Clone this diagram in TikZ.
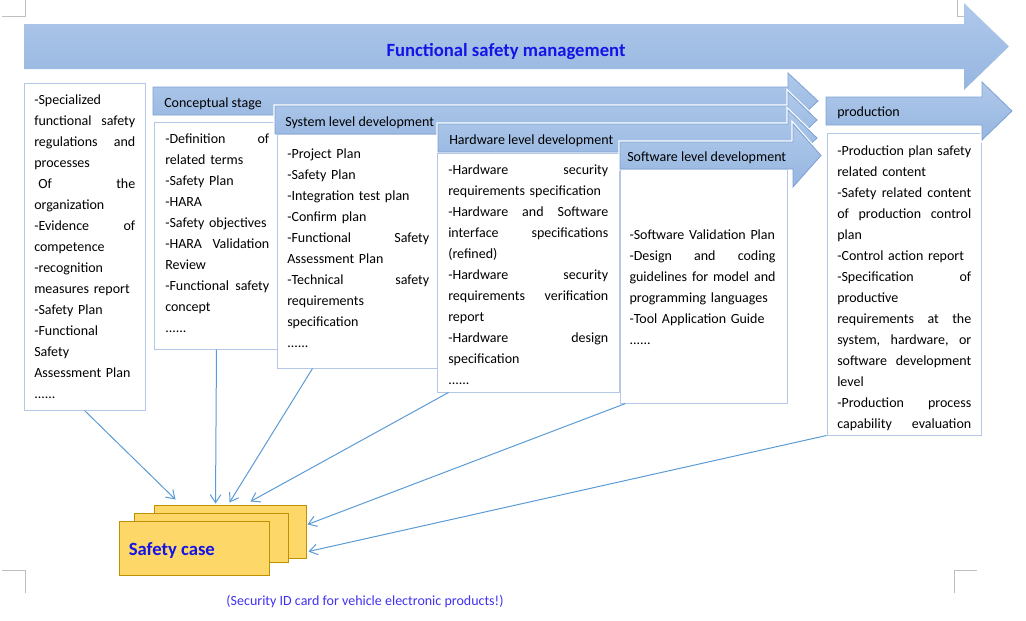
\documentclass[tikz,border=0pt]{standalone}
\usepackage{fontspec}
\setmainfont{Carlito}
\usetikzlibrary{arrows.meta,calc,fit}

\definecolor{bartop}{HTML}{AFC9EA}
\definecolor{barbot}{HTML}{96B5E0}
\definecolor{baredge}{HTML}{7EA2D5}
\definecolor{boxline}{HTML}{B4C7E7}
\definecolor{linkblue}{HTML}{5B9BD5}
\definecolor{cardfill}{HTML}{FDD868}
\definecolor{cardline}{HTML}{BF9000}
\definecolor{titleblue}{HTML}{1414E6}
\definecolor{noteblue}{HTML}{4030F0}
\definecolor{cropgray}{HTML}{BFBFBF}

\tikzset{
  bigbar/.style={top color=bartop, bottom color=barbot},
  stagebar/.style={top color=bartop, bottom color=barbot, draw=baredge, line width=0.6pt,
    preaction={draw=white, line width=2.4pt}},
  stagelabel/.style={anchor=west, inner sep=0pt, font=\fontsize{10.5}{12}\selectfont},
  docbox/.style={draw=boxline, fill=white, line width=0.75pt, inner sep=0pt},
  doctext/.style={anchor=north west, inner sep=0pt, align=left, font=\fontsize{10.5}{15.75}\selectfont},
  card/.style={draw=cardline, fill=cardfill, line width=0.75pt, inner sep=0pt},
  link/.style={draw=linkblue, line width=0.75pt, -{Straight Barb[length=6pt,width=8pt]}},
  cropmark/.style={draw=cropgray, line width=0.75pt}
}

\begin{document}
\begin{tikzpicture}[x=0.75pt, y=-0.75pt]
\useasboundingbox (0,0) rectangle (1026,621);

% page corners
\draw[cropmark] (2,16) -- (25,16) -- (25,0);
\draw[cropmark] (957,0) -- (957,16) -- (966,16);
\draw[cropmark] (2,570) -- (25,570) -- (25,593);
\draw[cropmark] (954,593) -- (954,570) -- (977,570);

% management bar
\path[bigbar] (24,24) -- (964,24) -- (964,3) -- (1009,46.5) -- (964,90) -- (964,69) -- (24,69) -- cycle;
\node[font=\fontsize{14}{16}\selectfont\bfseries, text=titleblue] (fsm) at (506,52) {Functional safety management};

% organization
\node[docbox, fit={(24,83) (145,410)}] (org) {};
\node[doctext, text width=75.75pt] (orgtext) at (34,95) {-Specialized\\
functional\hfill safety\\
regulations\hfill and\\
processes\\
\hspace*{3pt}Of\hfill the\\
organization\\
-Evidence\hfill of\\
competence\\
-recognition\\
measures report\\
-Safety Plan\\
-Functional\\
Safety\\
Assessment Plan\\
......};

% conceptual stage
\path[stagebar] (153,87) -- (788,87) -- (788,73) -- (818,101) -- (788,129) -- (788,115) -- (153,115) -- cycle;
\node[stagelabel] (conceptlbl) at (164,104) {Conceptual stage};
\node[docbox, fit={(154,122) (279,349)}] (concept) {};
\node[doctext, text width=78pt] (concepttext) at (165,134) {-Definition\hfill of\\
related terms\\
-Safety Plan\\
-HARA\\
-Safety objectives\\
-HARA\hfill Validation\\
Review\\
-Functional\hfill safety\\
concept\\
......};

% system level
\path[stagebar] (275,106) -- (788,106) -- (788,92) -- (817,120) -- (788,148) -- (788,134) -- (275,134) -- cycle;
\node[stagelabel] (syslbl) at (285,123) {System level development};
\node[docbox, fit={(277,134) (437,368)}] (sys) {};
\node[doctext, text width=106.5pt] (systext) at (287,149) {-Project Plan\\
-Safety Plan\\
-Integration test plan\\
-Confirm plan\\
-Functional\hfill Safety\\
Assessment Plan\\
-Technical\hfill safety\\
requirements\\
specification\\
......};

% hardware level
\path[stagebar] (438,124) -- (788,124) -- (788,110) -- (817,138) -- (788,166) -- (788,152) -- (438,152) -- cycle;
\node[stagelabel] (hwlbl) at (449,140.5) {Hardware level development};
\node[docbox, fit={(437,153) (619,392)}] (hw) {};
\node[doctext, text width=120pt] (hwtext) at (448,165) {-Hardware\hfill security\\
requirements specification\\
-Hardware\hfill and\hfill Software\\
interface\hfill specifications\\
(refined)\\
-Hardware\hfill security\\
requirements\hfill verification\\
report\\
-Hardware\hfill design\\
specification\\
......};

% software level
\path[stagebar] (620,142) -- (793,142) -- (793,124) -- (821,155.5) -- (793,187) -- (793,169) -- (620,169) -- cycle;
\node[stagelabel] (swlbl) at (627,158) {Software level development};
\node[docbox, fit={(620,169) (787,403)}] (sw) {};
\node[doctext, anchor=center, text width=109.5pt] (swtext) at ($(sw.center)+(-1,1.5)$) {-Software Validation Plan\\
-Design\hfill and\hfill coding\\
guidelines\hfill for\hfill model\hfill and\\
programming languages\\
-Tool Application Guide\\
......};

% production
\node[docbox, fit={(827,133) (981,435)}] (prod) {};
\path[stagebar] (826,97) -- (982,97) -- (982,82) -- (1012,111) -- (982,140) -- (982,125) -- (826,125) -- cycle;
\node[stagelabel] (prodlbl) at (837,113) {production};
\node[doctext, text width=100.5pt] (prodtext) at (837,145.5) {-Production\hfill plan\hfill safety\\
related content\\
-Safety\hfill related\hfill content\\
of\hfill production\hfill control\\
plan\\
-Control action report\\
-Specification\hfill of\\
productive\\
requirements\hfill at\hfill the\\
system,\hfill hardware,\hfill or\\
software\hfill development\\
level\\
-Production\hfill process\\
capability\hfill evaluation};

% safety case
\node[card, fit={(154,505) (306,558)}] (card3) {};
\node[card, fit={(134,513) (288,562)}] (card2) {};
\node[card, fit={(119,521) (269,575)}] (card1) {};
\node[anchor=west, inner sep=0pt, font=\fontsize{14}{16}\selectfont\bfseries, text=titleblue] (casetext) at ($(card1.west)+(10,2)$) {Safety case};
\node[font=\fontsize{10.5}{12}\selectfont, text=noteblue] (note) at (365,602) {(Security ID card for vehicle electronic products!)};

\draw[link] (org.south) -- ($(card3.north west)+(22,-5)$);
\draw[link] (concept.south) -- ($(card3.north west)+(62,-1)$);
\draw[link] ($(sys.south west)+(36,0)$) -- ($(card3.north west)+(76,-2)$);
\draw[link] ($(hw.south west)+(12,0)$) -- ($(card3.north west)+(97,-3)$);
\draw[link] ($(sw.south west)+(6,0)$) -- ($(card3.north east)+(1,20)$);
\draw[link] (prod.south west) -- ($(card3.north east)+(2,47)$);
\end{tikzpicture}
\end{document}
